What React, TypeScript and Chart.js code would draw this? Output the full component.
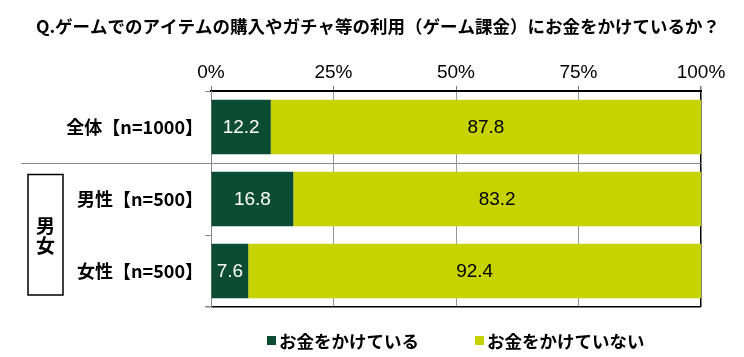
import React, { useEffect, useRef } from 'react';
import { Chart, registerables } from 'chart.js';

Chart.register(...registerables);

const TITLE = 'Q.ゲームでのアイテムの購入やガチャ等の利用（ゲーム課金）にお金をかけているか？';
const categories = ['全体【n=1000】', '男性【n=500】', '女性【n=500】'];
const paying = [12.2, 16.8, 7.6];
const notPaying = [87.8, 83.2, 92.4];
const seriesLabels = ['お金をかけている', 'お金をかけていない'];
const seriesColors = ['#0d4c34', '#c6d300'];
const labelColors = ['#ffffff', '#000000'];
const xTickValues = [0, 25, 50, 75, 100];
const groupLabel = ['男', '女'];

const CJK = '"Noto Sans CJK JP", "Noto Sans", sans-serif';
const LAT = '"Liberation Sans", Arial, sans-serif';

const decorPlugin = {
  id: 'decor',
  afterDatasetsDraw(chart: any) {
    const { ctx } = chart;
    ctx.save();
    ctx.font = `19px ${LAT}`;
    ctx.textAlign = 'center';
    ctx.textBaseline = 'middle';
    chart.data.datasets.forEach((ds: any, di: number) => {
      const meta = chart.getDatasetMeta(di);
      meta.data.forEach((el: any, i: number) => {
        const v = ds.data[i];
        const cx = (el.x + el.base) / 2;
        ctx.fillStyle = labelColors[di];
        ctx.fillText(v.toFixed(1), cx, el.y + 1);
      });
    });
    ctx.restore();
  },
  afterDraw(chart: any) {
    const { ctx, chartArea, scales } = chart;
    const y = scales.y;
    ctx.save();
    // title
    ctx.font = `bold 17.5px ${CJK}`;
    ctx.fillStyle = '#000';
    ctx.textAlign = 'center';
    ctx.textBaseline = 'middle';
    ctx.fillText(TITLE, 378, 26);

    // separator extension to the left
    const sepY = Math.round((y.getPixelForTick(0) + y.getPixelForTick(1)) / 2) + 0.5;
    ctx.strokeStyle = '#8a8a8a';
    ctx.lineWidth = 1;
    ctx.beginPath();
    ctx.moveTo(21, sepY);
    ctx.lineTo(chartArea.left, sepY);
    ctx.stroke();

    // group box
    const boxTop = sepY + 11;
    const boxBottom = chartArea.bottom - 12;
    ctx.strokeStyle = '#000';
    ctx.lineWidth = 1.5;
    ctx.strokeRect(28, boxTop, 35, boxBottom - boxTop);
    ctx.font = `bold 19px ${CJK}`;
    ctx.fillStyle = '#000';
    const mid = (boxTop + boxBottom) / 2;
    ctx.fillText(groupLabel[0], 45.5, mid - 9);
    ctx.fillText(groupLabel[1], 45.5, mid + 11);

    // legend
    const legX = [267, 475];
    const legY = 341;
    ctx.font = `bold 17.5px ${CJK}`;
    ctx.textAlign = 'left';
    seriesLabels.forEach((lab, i) => {
      ctx.fillStyle = seriesColors[i];
      ctx.fillRect(legX[i], legY - 5, 9, 9);
      ctx.fillStyle = '#000';
      ctx.fillText(lab, legX[i] + 12, legY);
    });
    ctx.restore();
  },
};

export default function App() {
  const ref = useRef<HTMLCanvasElement>(null);
  useEffect(() => {
    document.body.style.margin = '0';
    const chart = new Chart(ref.current as HTMLCanvasElement, {
      type: 'bar',
      data: {
        labels: categories,
        datasets: [
          {
            label: seriesLabels[0],
            data: paying,
            backgroundColor: seriesColors[0],
            barPercentage: 0.76,
            categoryPercentage: 1,
          },
          {
            label: seriesLabels[1],
            data: notPaying,
            backgroundColor: seriesColors[1],
            barPercentage: 0.76,
            categoryPercentage: 1,
          },
        ],
      },
      options: {
        indexAxis: 'y',
        animation: false,
        responsive: true,
        maintainAspectRatio: false,
        layout: { padding: { top: 0, left: 0, right: 43, bottom: 50 } },
        plugins: {
          legend: { display: false },
          title: { display: false },
          tooltip: { enabled: false },
        },
        scales: {
          x: {
            position: 'top',
            stacked: true,
            min: 0,
            max: 100,
            afterBuildTicks: (s: any) => {
              s.ticks = xTickValues.map((v) => ({ value: v }));
            },
            afterFit: (s: any) => {
              s.height = 91;
            },
            ticks: {
              callback: (v: any) => `${v}%`,
              font: { family: LAT, size: 19 },
              color: '#000',
              padding: 2,
            },
            grid: {
              color: (c: any) => (c.index === 4 ? '#000' : '#999'),
              lineWidth: (c: any) => (c.index === 4 ? 1.5 : 1),
              tickColor: '#777',
              tickLength: 5,
            },
            border: { display: true, color: '#000', width: 2 },
          },
          y: {
            stacked: true,
            afterFit: (s: any) => {
              s.width = 211;
            },
            ticks: {
              font: { family: CJK, size: 18, weight: 'bold' },
              color: '#000',
              padding: 2,
            },
            grid: {
              drawOnChartArea: true,
              color: (c: any) =>
                c.type !== 'tick' ? '#000' : c.index === 1 ? '#8a8a8a' : 'rgba(0,0,0,0)',
              lineWidth: (c: any) => (c.type !== 'tick' ? 1.5 : 1),
              tickColor: '#8a8a8a',
              tickLength: 6,
            },
            border: { display: true, color: '#8a8a8a', width: 1 },
          },
        },
      },
      plugins: [decorPlugin],
    } as any);
    return () => chart.destroy();
  }, []);
  return (
    <div style={{ position: 'relative', width: 744, height: 357 }}>
      <canvas ref={ref} />
    </div>
  );
}
